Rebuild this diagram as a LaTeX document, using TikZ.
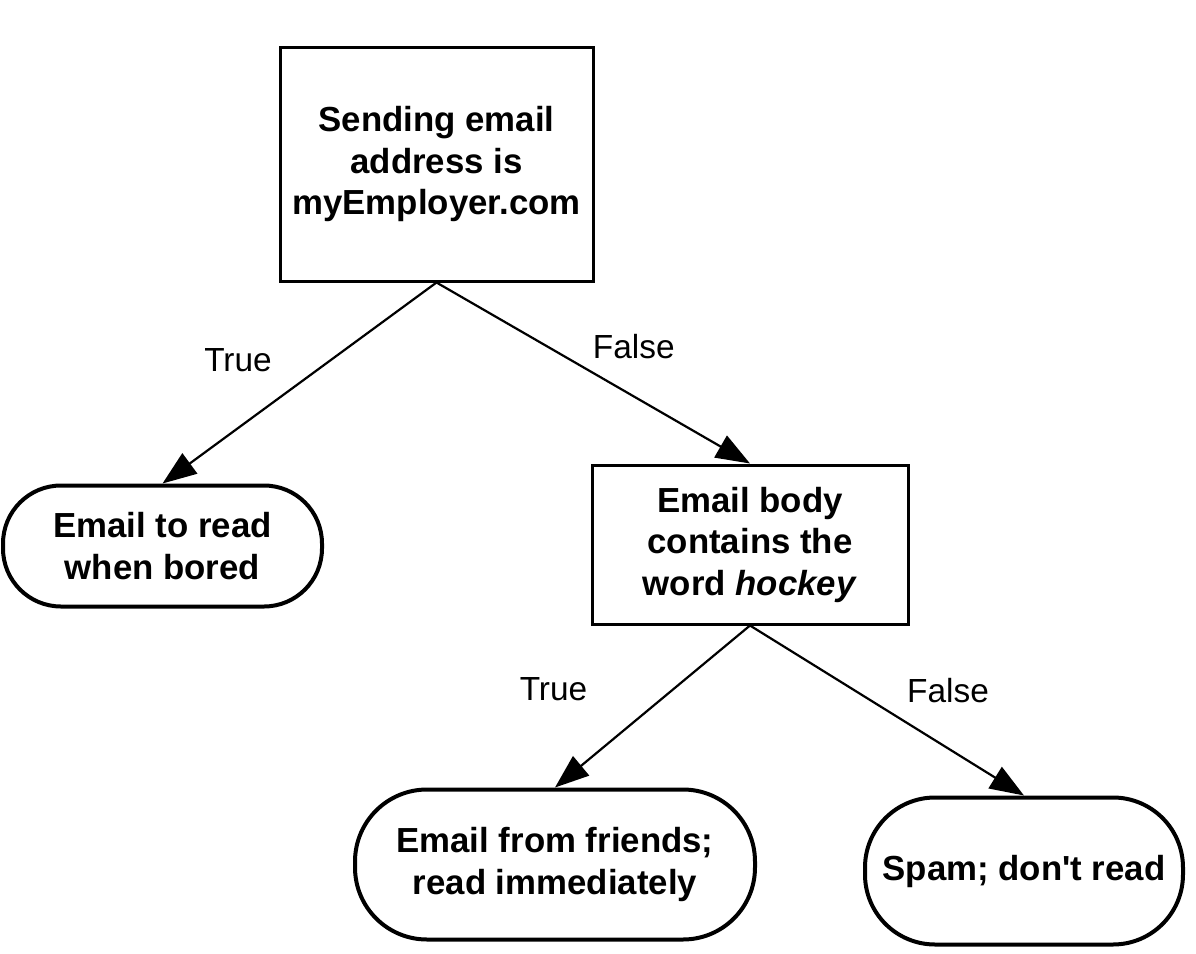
\documentclass[tikz,border=0pt]{standalone}
\usepackage{fontspec}
\setmainfont{Liberation Sans}
\usetikzlibrary{arrows.meta,positioning}
\tikzset{
    >={Triangle[length=17pt,width=12.5pt]},
    %node distance=3cm,
    test box/.style={rectangle,draw,line width=1.5pt,align=center,inner sep=0pt,
        font=\bfseries\fontsize{17.4}{20.75}\selectfont},
    leaf box/.style={rectangle,draw,line width=2pt,align=center,inner sep=0pt,
        font=\bfseries\fontsize{17.4}{20.75}\selectfont},
    branch/.style={inner sep=0pt,font=\fontsize{16.7}{20}\selectfont},
    link/.style={->,line width=1.1pt}
}

\begin{document}
\begin{tikzpicture}
    \useasboundingbox (0,0) rectangle (598pt,-477pt);
    \node[test box, minimum width=156.5pt, minimum height=117pt] (1) at (218.25pt,-82pt) {Sending email\\address is\\myEmployer.com};
    \node[leaf box, rounded corners=29pt, minimum width=159.5pt, minimum height=60.5pt] (2) [below = 100.5pt of 1, xshift=-137pt] {Email to read\\when bored};
    \node[test box, minimum width=158pt, minimum height=79.5pt] (3) [below = 90.5pt of 1, xshift=156.75pt] {Email body\\contains the\\word \textit{hockey}};
    \node[leaf box, rounded corners=36pt, minimum width=200pt, minimum height=75pt] (4) [below = 81pt of 3, xshift=-97.5pt] {Email from friends;\\read immediately};
    \node[leaf box, rounded corners=35pt, minimum width=159pt, minimum height=73.5pt] (5) [below = 85pt of 3, xshift=137pt] {Spam; don\textquotesingle t read};
    \path[link]
        (1.south) edge node [branch, xshift=-30.75pt, yshift=11.25pt] {True} (2.north)
        (1.south) edge node [branch, xshift=20.25pt, yshift=13.25pt] {False} (3.north)
        (3.south) edge node [branch, xshift=-49.5pt, yshift=8.5pt] {True} (4.north)
        (3.south) edge node [branch, xshift=30.5pt, yshift=10pt] {False} (5.north)
        ;
\end{tikzpicture}
\end{document}
